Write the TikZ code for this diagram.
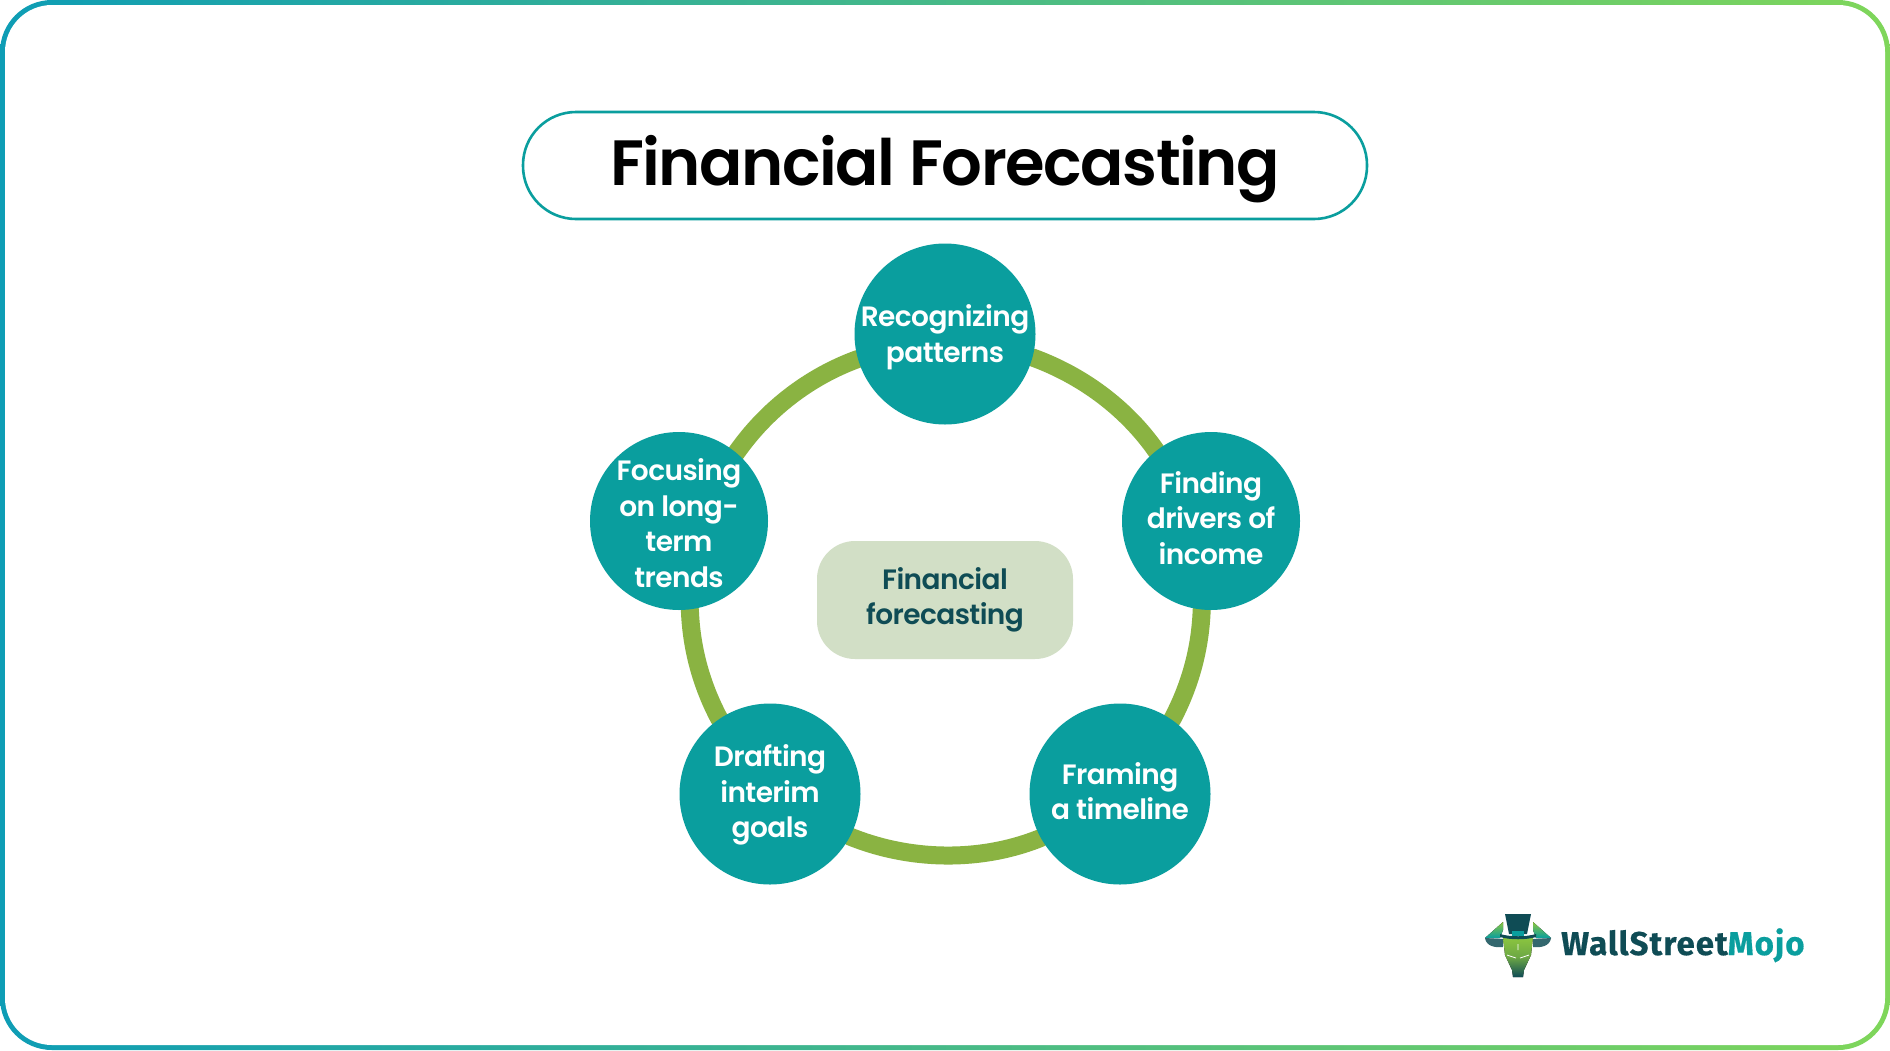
\documentclass[tikz,border=0pt]{standalone}
\usepackage{fontspec}
\setmainfont{Poppins}[BoldFont={Poppins SemiBold}]
\newfontfamily\titlefont{Poppins SemiBold}[LetterSpace=-2.3]
\newfontfamily\stepfont{Poppins SemiBold}[LetterSpace=-2]
\newfontfamily\logofont{Fira Sans}[LetterSpace=3.1,BoldFeatures={FakeBold=0.5}]
\usetikzlibrary{positioning}
\usetikzlibrary{backgrounds}
\definecolor{mojoteal}{HTML}{0A9E9E}
\definecolor{mojodark}{HTML}{0F4C55}
\definecolor{ringgreen}{HTML}{8AB342}
\definecolor{boxgreen}{HTML}{D2DFC6}
\definecolor{frameleft}{HTML}{0E9DB5}
\definecolor{frameright}{HTML}{7FD65A}
\definecolor{headgreen}{HTML}{8CC63F}
\tikzset{basic step/.style={circle,fill=mojoteal,inner sep=0pt}}
\tikzset{step label/.style={align=center,text=white,inner sep=0pt,font=\fontsize{28}{35.6}\stepfont}}
\tikzset{ring edge/.style={draw=ringgreen,line width=18pt,line cap=round,looseness=0.87}}

\begin{document}
\begin{tikzpicture}
      [
      x=1pt,y=-1pt,
      title pill/.style={draw=mojoteal,line width=2.6pt,fill=white,rounded corners=53pt,
      minimum width=844pt,minimum height=107pt,
      font=\fontsize{64}{70}\titlefont},
      center box/.style={fill=boxgreen,rounded corners=38pt,minimum width=256pt,minimum height=118pt,
      align=center,text=mojodark,font=\fontsize{28}{35.6}\stepfont},
      ]
      \useasboundingbox (0,0) rectangle (1890,1050);

      % frame
      \begin{scope}[on background layer]
      \shade [left color=frameleft,right color=frameright,rounded corners=52pt] (0,0) rectangle (1890,1050);
      \fill [white,rounded corners=47pt] (5,5) rectangle (1885,1045);
      \end{scope}

      % title
      \node [title pill] (Title) at (945,165.5) {};
      \node [font=\fontsize{64}{70}\titlefont,inner sep=0pt,anchor=base] (TitleText) at (945,185) {Financial Forecasting};

      % steps
      \node [basic step,minimum size=181pt,label={[step label,yshift=-3pt]center:{Recognizing\\patterns}}] (S1) at (945,334) {};
      \node [basic step,minimum size=178pt,label={[step label,yshift=3pt]center:{Finding\\drivers of\\income}}] (S2) at (1211,521) {};
      \node [basic step,minimum size=181pt,label={[step label,yshift=3pt]center:{Framing\\a timeline}}] (S3) at (1120,794) {};
      \node [basic step,minimum size=181pt,label={[step label,yshift=-1pt]center:{Drafting\\interim\\goals}}] (S4) at (770,794) {};
      \node [basic step,minimum size=178pt,label={[step label,yshift=-2pt]center:{Focusing\\on long-\\term\\trends}}] (S5) at (679,521) {};

      \node [center box] (Center) at (945,600) {Financial\\forecasting};

      % edges
      \begin{scope}[on background layer]
      \foreach \a/\p/\b/\q/\o/\n in
      {
      1/-15.2/2/128.9/-20/125,
      2/-96.1/3/55.2/-92/62,
      3/-151.5/4/-28.5/-158/-22,
      4/124.8/5/-83.6/118/-88,
      5/50.9/1/-164.8/55/-160
      }
      {
      \path [ring edge] (S\a.\p) to [out=\o,in=\n] (S\b.\q);
      }
      \end{scope}

      % logo
      \fill [top color=headgreen,bottom color=mojoteal] (1503,922) -- (1485,938) -- (1500,938) -- (1503,930) -- cycle;
      \fill [top color=headgreen,bottom color=mojoteal] (1533,922) -- (1551,938) -- (1536,938) -- (1533,930) -- cycle;
      \fill [mojodark!85] (1485,938) .. controls (1486,946) and (1495,948) .. (1503,947) -- (1503,939) -- cycle;
      \fill [mojodark!85] (1551,938) .. controls (1550,946) and (1541,948) .. (1533,947) -- (1533,939) -- cycle;
      \fill [top color=headgreen,bottom color=mojodark,middle color=headgreen!75!mojodark]
      (1503,937) -- (1533,937) -- (1531,955) -- (1524,970) -- (1523,977) -- (1513,977) -- (1512,970) -- (1505,955) -- cycle;
      \draw [white,line width=0.8pt] (1507,955) -- (1516,958) (1529,955) -- (1520,958) (1518,944) -- (1518,950);
      \fill [mojodark] (1505,914) -- (1531,914) -- (1527,934) -- (1509,934) -- cycle;
      \fill [mojodark] (1500,934) .. controls (1510,937) and (1526,937) .. (1536,934) -- (1536,937) .. controls (1526,940) and (1510,940) .. (1500,937) -- cycle;
      \fill [mojoteal] (1512,931) rectangle (1524,936);
      \node [anchor=base west,inner sep=0pt,text=mojodark,font=\fontsize{33}{33}\logofont\bfseries] (Logo) at (1561,955) {WallStreet\textcolor{mojoteal}{Mojo}};
\end{tikzpicture}
\end{document}
